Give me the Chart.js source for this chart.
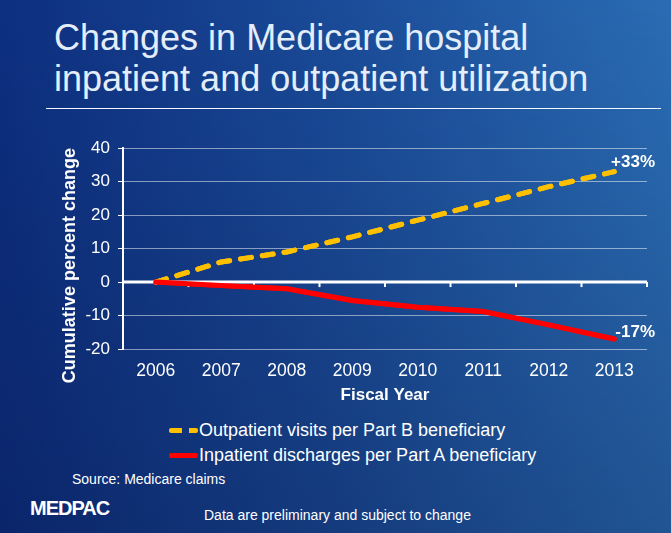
<!DOCTYPE html>
<html>
<head>
<meta charset="utf-8">
<script src="https://cdn.jsdelivr.net/npm/chart.js@4/dist/chart.umd.min.js"></script>
<style>
  html, body { margin: 0; padding: 0; }
  body {
    width: 671px; height: 533px; position: relative; overflow: hidden;
    font-family: "Liberation Sans", Arial, sans-serif; color: #fff;
    background:
      linear-gradient(to bottom, rgba(0,0,30,0) 0%, rgba(0,0,30,0.22) 100%),
      linear-gradient(to right, #0d2f80 0%, #1a4b98 50%, #2a6cb4 100%);
  }
  #title {
    position: absolute; left: 54px; top: 17px; font-size: 36px; line-height: 41px;
    color: #e4eefa; white-space: nowrap;
  }
  #rule { position: absolute; left: 46px; top: 108px; width: 615px; height: 1px; background: #f4f8ff; }
  #wrap { position: absolute; left: 0; top: 130px; width: 671px; height: 276px; }
  .leg { position: absolute; left: 169px; font-size: 18px; white-space: nowrap; color: #fff; }
  .sw { display: inline-block; width: 29px; height: 5px; vertical-align: middle; margin-right: 1px; position: relative; top: -1px; }
  #src { position: absolute; left: 72px; top: 471px; font-size: 14px; }
  #logo { position: absolute; left: 30px; top: 497px; font-size: 20px; letter-spacing: -1px; font-weight: bold; }
  #note { position: absolute; left: 204px; top: 507px; font-size: 14px; }
</style>
</head>
<body>
<div id="title">Changes in Medicare hospital<br>inpatient and outpatient utilization</div>
<div id="rule"></div>
<div id="wrap"><canvas id="c" width="671" height="276"></canvas></div>
<div class="leg" style="top:420px"><span class="sw" style="background:linear-gradient(to right,#ffc000 0 13px,transparent 13px 20px,#ffc000 20px 29px);border-radius:2px"></span>Outpatient visits per Part B beneficiary</div>
<div class="leg" style="top:445px"><span class="sw" style="background:#ff0000;border-radius:2px"></span>Inpatient discharges per Part A beneficiary</div>
<div id="src">Source: Medicare claims</div>
<div id="logo">MEDPAC</div>
<div id="note">Data are preliminary and subject to change</div>
<script>
const years = ['2006', '2007', '2008', '2009', '2010', '2011', '2012', '2013'];
const outpatient = [0, 6, 9, 13.5, 18.5, 23.5, 28.5, 33];
const inpatient = [0, -1, -2, -5.5, -7.5, -8.8, -12.8, -17];
const endLabels = ['+33%', '-17%'];
const yTitle = 'Cumulative percent change';

const decor = {
  id: 'decor',
  afterDatasetsDraw(chart) {
    const ctx = chart.ctx, x = chart.scales.x, y = chart.scales.y;
    const y0 = y.getPixelForValue(0);
    ctx.save();
    // zero line
    ctx.strokeStyle = '#ffffff';
    ctx.lineWidth = 3;
    ctx.beginPath();
    ctx.moveTo(chart.chartArea.left, y0);
    ctx.lineTo(chart.chartArea.right, y0);
    ctx.stroke();
    // category tick marks on zero line
    ctx.lineWidth = 2;
    const half = (x.getPixelForValue(1) - x.getPixelForValue(0)) / 2;
    for (let i = 0; i <= years.length; i++) {
      const px = x.getPixelForValue(i) - half;
      ctx.beginPath();
      ctx.moveTo(px, y0);
      ctx.lineTo(px, y0 + 5);
      ctx.stroke();
    }
    ctx.restore();
    // redraw series over zero line
    chart.getSortedVisibleDatasetMetas().forEach(m => m.controller.draw());
    ctx.save();
    ctx.fillStyle = '#ffffff';
    ctx.textBaseline = 'middle';
    // end labels
    ctx.font = 'bold 17px "Liberation Sans", Arial, sans-serif';
    ctx.textAlign = 'right';
    const last = years.length - 1;
    ctx.fillText(endLabels[0], chart.chartArea.right + 8, y.getPixelForValue(outpatient[last]) - 9);
    ctx.fillText(endLabels[1], chart.chartArea.right + 8, y.getPixelForValue(inpatient[last]) - 7);
    // y axis title, sitting a bit below the plot centre as in the slide
    ctx.font = 'bold 18px "Liberation Sans", Arial, sans-serif';
    ctx.textAlign = 'center';
    ctx.translate(70, (chart.chartArea.top + chart.chartArea.bottom) / 2 + 17);
    ctx.rotate(-Math.PI / 2);
    ctx.fillText(yTitle, 0, 0);
    ctx.restore();
  }
};

const font = size => ({ family: '"Liberation Sans", Arial', size: size });

new Chart(document.getElementById('c'), {
  type: 'line',
  data: {
    labels: years,
    datasets: [{
      label: 'Outpatient visits per Part B beneficiary',
      data: outpatient,
      borderColor: '#ffc000',
      borderWidth: 5,
      borderDash: [11, 11],
      borderCapStyle: 'round',
      pointRadius: 0,
      tension: 0
    }, {
      label: 'Inpatient discharges per Part A beneficiary',
      data: inpatient,
      borderColor: '#ff0000',
      borderWidth: 5,
      borderCapStyle: 'round',
      pointRadius: 0,
      tension: 0
    }]
  },
  options: {
    responsive: false,
    animation: false,
    devicePixelRatio: 1,
    layout: { padding: { left: 54, right: 24, top: 16, bottom: 0 } },
    plugins: { legend: { display: false }, tooltip: { enabled: false } },
    scales: {
      x: {
        offset: true,
        grid: { display: false, drawTicks: false },
        border: { display: false },
        ticks: { color: '#ffffff', padding: 12, font: font(17.5) },
        title: { display: true, text: 'Fiscal Year', color: '#ffffff', padding: { top: 0, bottom: 0 },
                 font: { ...font(17), weight: 'bold' } },
        afterFit(s) { s.height = 57; }
      },
      y: {
        min: -20, max: 40,
        ticks: { stepSize: 10, color: '#ffffff', padding: 8, font: font(17) },
        grid: { color: 'rgba(255,255,255,0.5)', lineWidth: 1, tickLength: 5, tickColor: '#ffffff' },
        border: { display: true, color: '#ffffff', width: 2 },
        afterFit(s) { s.width = 69; }
      }
    }
  },
  plugins: [decor]
});
</script>
</body>
</html>
